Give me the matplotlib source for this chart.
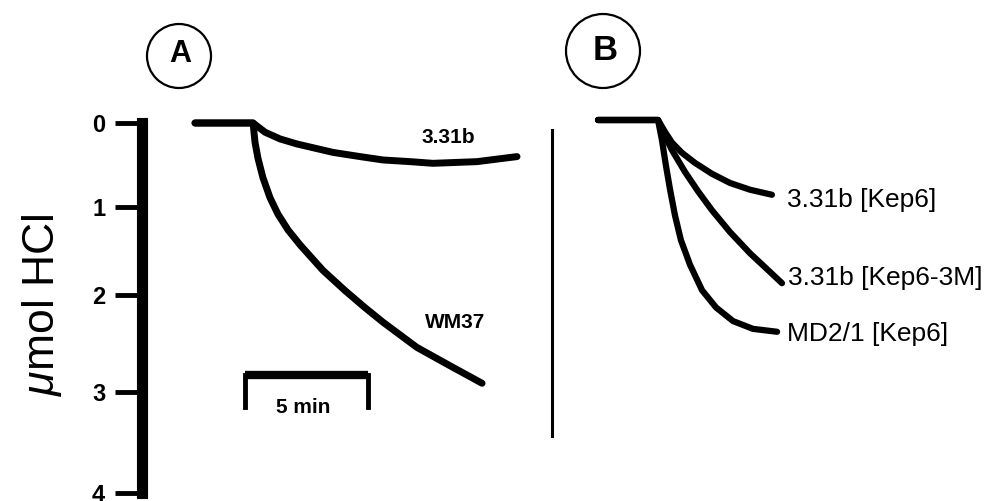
import numpy as np
import matplotlib
matplotlib.use("Agg")
import matplotlib.pyplot as plt
from matplotlib.patches import Circle

plt.rcParams['font.family'] = ['Liberation Sans', 'DejaVu Sans']
plt.rcParams['mathtext.fontset'] = 'custom'
plt.rcParams['mathtext.it'] = 'Liberation Sans:italic'
plt.rcParams['mathtext.rm'] = 'Liberation Sans'

# y axis (umol HCl) ticks
y_ticks = [0, 1, 2, 3, 4]
y_ticklabels = ['0', '1', '2', '3', '4']

# panel A, time in min from start of trace, umol HCl
t_wm37 = [0, 2.36, 2.44, 2.56, 2.76, 3.05, 3.37, 3.78, 4.27, 5.20, 6.10, 6.91, 7.64, 8.33, 9.02, 10.37, 11.67]
hcl_wm37 = [0, 0, 0.23, 0.42, 0.65, 0.89, 1.08, 1.26, 1.43, 1.72, 1.95, 2.13, 2.28, 2.41, 2.54, 2.73, 2.91]
t_331b = [0, 2.36, 2.85, 3.46, 4.15, 4.88, 5.61, 6.71, 7.64, 8.74, 9.67, 11.46, 13.09]
hcl_331b = [0, 0, 0.11, 0.19, 0.25, 0.30, 0.35, 0.40, 0.44, 0.46, 0.48, 0.46, 0.40]

# panel B
t_kep6 = [0, 2.44, 2.72, 3.01, 3.41, 3.94, 4.63, 5.37, 6.18, 7.07]
hcl_kep6 = [0, 0, 0.14, 0.27, 0.39, 0.51, 0.64, 0.75, 0.83, 0.89]
t_kep6_3m = [0, 2.44, 2.72, 3.01, 3.54, 4.07, 4.63, 5.37, 6.18, 6.87, 7.48]
hcl_kep6_3m = [0, 0, 0.19, 0.36, 0.62, 0.85, 1.07, 1.32, 1.56, 1.74, 1.90]
t_md21 = [0, 2.44, 2.60, 2.76, 2.93, 3.13, 3.37, 3.74, 4.23, 4.80, 5.49, 6.30, 7.28]
hcl_md21 = [0, 0, 0.24, 0.54, 0.83, 1.13, 1.41, 1.69, 1.98, 2.16, 2.30, 2.38, 2.41]

scale_min = 5  # scale bar length, min

# the scanned axis is not quite linear, map tick values to pixel offsets
TICK_PX = [0, 84, 172, 269, 370]
def fwd(v):
    return np.interp(v, y_ticks, TICK_PX, left=-1e3, right=1e3)
def inv(p):
    return np.interp(p, TICK_PX, y_ticks)

W, H = 999, 501
PX_PER_MIN = 24.6

fig = plt.figure(figsize=(W / 100, H / 100), dpi=100)

# ---- panel A ----
a_left, a_right, a_top, a_bot, a_t0 = 142, 530, 123, 493, 195
axA = fig.add_axes([a_left / W, (H - a_bot) / H, (a_right - a_left) / W, (a_bot - a_top) / H])
axA.set_yscale('function', functions=(fwd, inv))
axA.set_ylim(4, 0)
axA.set_xlim((a_left - a_t0) / PX_PER_MIN, (a_right - a_t0) / PX_PER_MIN)
for s in ['top', 'right', 'bottom']:
    axA.spines[s].set_visible(False)
axA.spines['left'].set_linewidth(8)
axA.spines['left'].set_capstyle('projecting')
axA.xaxis.set_visible(False)
axA.set_yticks(y_ticks)
axA.set_yticklabels(y_ticklabels)
axA.yaxis.set_minor_locator(plt.NullLocator())
axA.tick_params(axis='y', direction='out', length=19.5, width=3.5, pad=7, labelsize=17)
for lab in axA.get_yticklabels():
    lab.set_fontweight('bold')
axA.patch.set_visible(False)

kw = dict(color='black', lw=5, solid_capstyle='round', solid_joinstyle='round', clip_on=False)
axA.plot(t_331b, hcl_331b, **kw)
axA.plot(t_wm37, hcl_wm37, **kw)
axA.text(10.28, 0.17, '3.31b', fontsize=15, fontweight='bold', ha='center', va='center')
axA.text(10.57, 2.28, 'WM37', fontsize=15, fontweight='bold', ha='center', va='center')

# scale bar
sb_x0, sb_y, sb_leg = 2.03, 2.82, 3.15
axA.plot([sb_x0, sb_x0 + scale_min], [sb_y, sb_y], color='black', lw=6, solid_capstyle='butt')
axA.plot([sb_x0, sb_x0], [sb_y, sb_leg], color='black', lw=3.5)
axA.plot([sb_x0 + scale_min, sb_x0 + scale_min], [sb_y, sb_leg], color='black', lw=3.5)
axA.text(sb_x0 + scale_min / 2 - 0.15, sb_leg, f'{scale_min} min', fontsize=15, fontweight='bold',
         ha='center', va='center')

# ---- panel B ----
b_left, b_right, b_top, b_bot, b_t0 = 552, 999, 120, 490, 598
axB = fig.add_axes([b_left / W, (H - b_bot) / H, (b_right - b_left) / W, (b_bot - b_top) / H])
axB.set_yscale('function', functions=(fwd, inv))
axB.set_ylim(4, 0)
axB.set_xlim((b_left - b_t0) / PX_PER_MIN, (b_right - b_t0) / PX_PER_MIN)
for s in ['top', 'right', 'bottom']:
    axB.spines[s].set_visible(False)
axB.spines['left'].set_linewidth(2.2)
axB.spines['left'].set_bounds(0.12, 3.47)
axB.xaxis.set_visible(False)
axB.set_yticks([])
axB.yaxis.set_minor_locator(plt.NullLocator())
axB.patch.set_visible(False)

kwb = dict(color='black', lw=4.5, solid_capstyle='round', solid_joinstyle='round', clip_on=False)
axB.plot(t_kep6, hcl_kep6, **kwb)
axB.plot(t_kep6_3m, hcl_kep6_3m, **kwb)
axB.plot(t_md21, hcl_md21, **kwb)
lab_kw = dict(textcoords='offset points', ha='left', va='center', fontsize=19)
axB.annotate('3.31b [Kep6]', (t_kep6[-1], hcl_kep6[-1]), xytext=(10.5, -3.5), **lab_kw)
axB.annotate('3.31b [Kep6-3M]', (t_kep6_3m[-1], hcl_kep6_3m[-1]), xytext=(4.5, 3.5), **lab_kw)
axB.annotate('MD2/1 [Kep6]', (t_md21[-1], hcl_md21[-1]), xytext=(7, -1.5), **lab_kw)

# y label
fig.text(42 / W, (H - 305) / H, r'$\mu$mol HCl', rotation=90, fontsize=32, ha='center', va='center')

# circled panel letters
fig.add_artist(Circle((1.79, (H - 56) / 100), 0.32, transform=fig.dpi_scale_trans,
                      fill=False, lw=1.6, color='black'))
fig.add_artist(Circle((6.03, (H - 51) / 100), 0.37, transform=fig.dpi_scale_trans,
                      fill=False, lw=1.6, color='black'))
fig.text(180 / W, (H - 54) / H, 'A', fontsize=22, fontweight='bold', ha='center', va='center')
fig.text(605 / W, (H - 51) / H, 'B', fontsize=25, fontweight='bold', ha='center', va='center')

plt.savefig('out.png', dpi=100)
